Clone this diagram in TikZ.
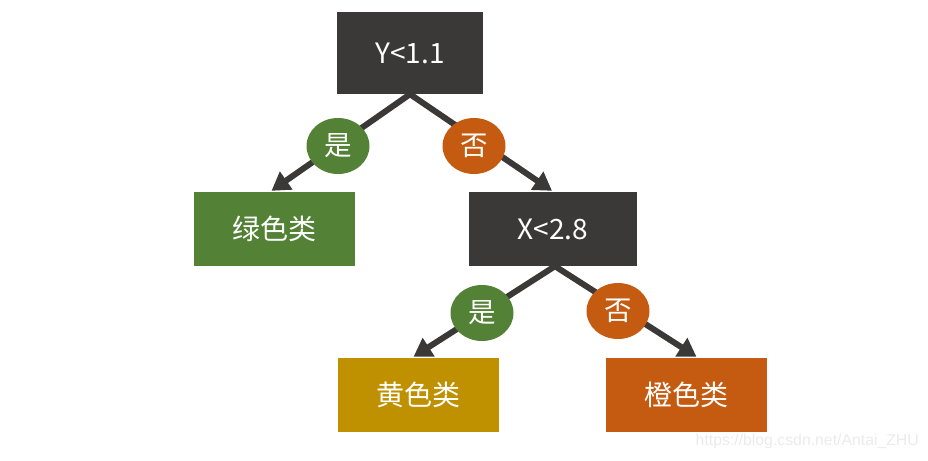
\documentclass[tikz,border=0pt]{standalone}
\usepackage{fontspec}
\setmainfont{Noto Sans CJK SC}
\newfontfamily\wmfont{Liberation Sans}
\usetikzlibrary{arrows.meta,shapes.geometric}
\definecolor{boxdark}{HTML}{3B3838}
\definecolor{boxgreen}{HTML}{538135}
\definecolor{boxorange}{HTML}{C55A11}
\definecolor{boxgold}{HTML}{BF9000}
\definecolor{wmgray}{HTML}{EBEBEB}
\begin{document}
\begin{tikzpicture}[x=1pt,y=-1pt,
  treebox/.style={fill=#1,draw=none,minimum width=161pt,minimum height=74pt,inner sep=0pt,
    text=white,font=\fontsize{28}{32}\selectfont},
  tag/.style={ellipse,fill=#1,draw=none,minimum width=63pt,minimum height=56pt,inner sep=0pt,
    text=white,font=\fontsize{27.5}{32}\selectfont},
  conn/.style={draw=boxdark,line width=6pt,-{Triangle[length=18pt,width=21pt]}}]
\useasboundingbox (0,0) rectangle (928,460);
\node[treebox=boxdark,minimum width=146pt,minimum height=82pt] (root) at (410,53) {Y<1.1};
\node[treebox=boxgreen] (green) at (274.5,229) {绿色类};
\node[treebox=boxdark,minimum width=168pt] (xnode) at (553,229) {X<2.8};
\node[treebox=boxgold] (yellow) at (418.5,395) {黄色类};
\node[treebox=boxorange] (orange) at (686.5,395) {橙色类};
\draw[conn] (root.south) -- ([xshift=-3pt,yshift=1pt]green.north);
\draw[conn] (root.south) -- ([xshift=-1pt,yshift=1pt]xnode.north);
\draw[conn] ([xshift=2pt]xnode.south) -- ([xshift=-5pt,yshift=1pt]yellow.north);
\draw[conn] ([xshift=2pt]xnode.south) -- ([xshift=10pt,yshift=1pt]orange.north);
\node[tag=boxgreen] (yes1) at (338,146) {是};
\node[tag=boxorange] (no1) at (474,146) {否};
\node[tag=boxgreen] (yes2) at (482,313) {是};
\node[tag=boxorange] (no2) at (618,311) {否};
\node[text=wmgray,font=\wmfont\fontsize{15.8}{18}\selectfont,anchor=east,inner sep=0pt] (wm) at (919,441) {https://blog.csdn.net/Antai\_ZHU};
\end{tikzpicture}
\end{document}
